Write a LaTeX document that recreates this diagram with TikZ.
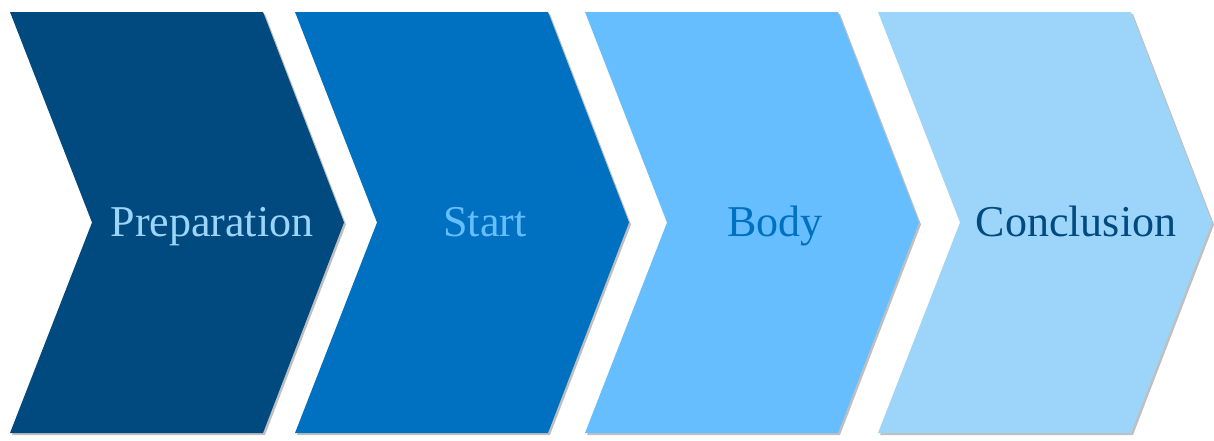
\documentclass[tikz,border=0pt]{standalone}
\usepackage{fontspec}
\setmainfont{Liberation Serif}
\usepackage{tikz}
\usepackage{xcolor}
\usetikzlibrary{shadows}

\definecolor{navy}{RGB}{0,74,128}
\definecolor{midblue}{RGB}{0,112,192}
\definecolor{skyblue}{RGB}{102,190,255}
\definecolor{paleblue}{RGB}{157,213,250}

\tikzset{
  chevron/.style={fill=#1, drop shadow={shadow xshift=2pt, shadow yshift=-2pt, opacity=0.25, fill=black}},
  steplabel/.style={text=#1, font=\fontsize{44}{48}\selectfont, inner sep=0pt, anchor=base}
}

\begin{document}
\begin{tikzpicture}[x=1pt, y=-1pt]
\useasboundingbox (0,0) rectangle (1214,440);
\path[chevron=navy] (10,12) -- (263,12) -- (344,222.5) -- (263,433) -- (10,433) -- (92,222.5) -- cycle;
\path[chevron=midblue] (295,12) -- (548,12) -- (629,222.5) -- (548,433) -- (295,433) -- (377,222.5) -- cycle;
\path[chevron=skyblue] (585,12) -- (838,12) -- (919,222.5) -- (838,433) -- (585,433) -- (667,222.5) -- cycle;
\path[chevron=paleblue] (878,12) -- (1131,12) -- (1212,222.5) -- (1131,433) -- (878,433) -- (960,222.5) -- cycle;
\node[steplabel=paleblue] (prep) at (212,236) {Preparation};
\node[steplabel=skyblue] (start) at (485,236) {Start};
\node[steplabel=midblue] (body) at (775,236) {Body};
\node[steplabel=navy] (concl) at (1076,236) {Conclusion};
\end{tikzpicture}
\end{document}
